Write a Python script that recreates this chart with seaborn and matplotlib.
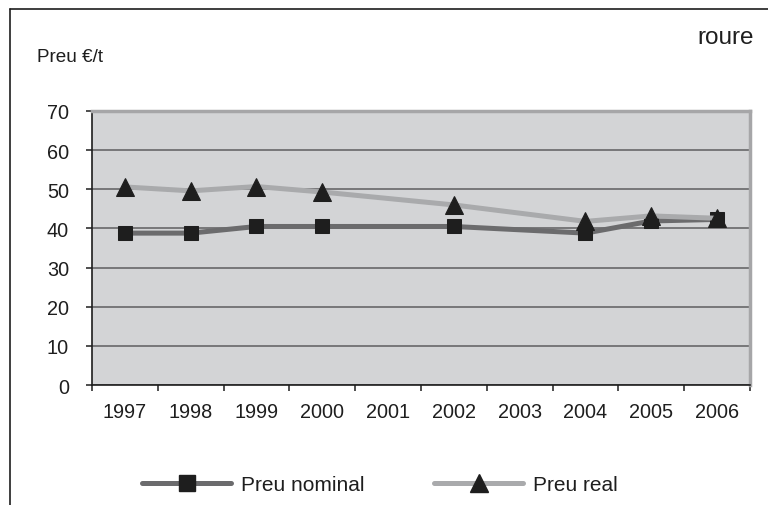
import matplotlib
matplotlib.use("Agg")
import matplotlib.pyplot as plt
from matplotlib.lines import Line2D
import seaborn as sns
import pandas as pd
import numpy as np

years = [1997, 1998, 1999, 2000, 2001, 2002, 2003, 2004, 2005, 2006]
nominal_years = [1997, 1998, 1999, 2000, 2002, 2004, 2005, 2006]
nominal = [38.8, 38.8, 40.5, 40.5, 40.5, 38.8, 41.9, 42.3]
real_years = [1997, 1998, 1999, 2000, 2002, 2004, 2005, 2006]
real = [50.6, 49.6, 50.7, 49.3, 46.0, 41.8, 43.2, 42.6]
yticks = [0, 10, 20, 30, 40, 50, 60, 70]

sns.set_theme(style="white")
plt.rcParams['font.family'] = ['Liberation Sans', 'DejaVu Sans']

fig = plt.figure(figsize=(7.68, 5.06), dpi=100)
ax = fig.add_axes([92/768, 1-386/506, (750-92)/768, (386-112)/506])
ax.set_facecolor('#d3d4d6')

df_n = pd.DataFrame({'year': nominal_years, 'value': nominal})
df_r = pd.DataFrame({'year': real_years, 'value': real})

sns.lineplot(data=df_n, x='year', y='value', ax=ax, color='#6b6b6d', lw=3.6,
             marker='s', ms=10, mfc='#1e1e1e', mec='#1e1e1e', zorder=3)
sns.lineplot(data=df_r, x='year', y='value', ax=ax, color='#a9aaac', lw=3.6,
             marker='^', ms=12.5, mfc='#1e1e1e', mec='#1e1e1e', zorder=4)

ax.set_xlim(1996.5, 2006.5)
ax.set_ylim(0, 70)
ax.set_yticks(yticks)
ax.set_yticklabels([str(v) for v in yticks])
ax.set_xticks(years)
ax.set_xticklabels([str(y) for y in years])
ax.set_xticks(np.arange(1996.5, 2007, 1.0), minor=True)
ax.tick_params(axis='x', which='major', length=0, pad=12, labelsize=14.3, colors='#1e1e1e')
ax.tick_params(axis='x', which='minor', length=4.5, width=1.1, direction='out', color='#1e1e1e', bottom=True)
ax.tick_params(axis='y', which='major', length=4.5, width=1.1, direction='out', pad=12,
               labelsize=14.3, colors='#1e1e1e', left=True)
ax.set_xlabel('')
ax.set_ylabel('')
ax.grid(axis='y', color='#5e5e60', lw=1.1)
ax.set_axisbelow(True)
for s in ['left', 'bottom']:
    ax.spines[s].set_color('#1e1e1e')
    ax.spines[s].set_linewidth(1.2)
for s in ['top', 'right']:
    ax.spines[s].set_color('#a6a6a8')
    ax.spines[s].set_linewidth(2.5)

# figure frame
fig.add_artist(Line2D([10/768, 10/768], [0, 1-10/506], color='#1e1e1e', lw=1.2, transform=fig.transFigure))
fig.add_artist(Line2D([10/768, 1], [1-10/506, 1-10/506], color='#1e1e1e', lw=1.2, transform=fig.transFigure))

fig.text(37/768, 1-62.5/506, 'Preu €/t', fontsize=13.6, color='#1e1e1e', ha='left', va='baseline')
fig.text(754/768, 1-43.5/506, 'roure', fontsize=17.5, color='#1e1e1e', ha='right', va='baseline')

h1 = Line2D([], [], color='#6b6b6d', lw=3.6, marker='s', ms=11, mfc='#1e1e1e', mec='#1e1e1e')
h2 = Line2D([], [], color='#a9aaac', lw=3.6, marker='^', ms=13, mfc='#1e1e1e', mec='#1e1e1e')
fig.legend([h1, h2], ['Preu nominal', 'Preu real'], loc='center', ncol=2,
           bbox_to_anchor=(380/768, 1-486/506), frameon=False,
           fontsize=15, handlelength=4.26, handletextpad=0.48, columnspacing=3.35,
           labelcolor='#1e1e1e')

fig.savefig('out.png', dpi=100)
